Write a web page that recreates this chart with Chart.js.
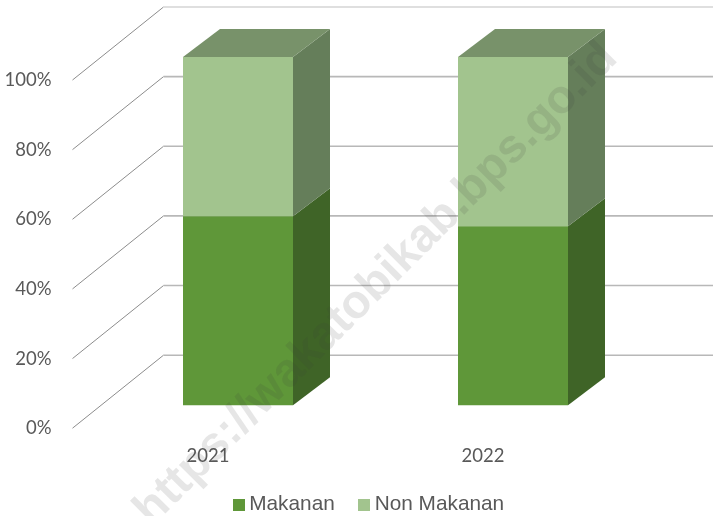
<!DOCTYPE html>
<html>
<head>
<meta charset="utf-8">
<title>Makanan dan Non Makanan</title>
<script src="https://cdn.jsdelivr.net/npm/chart.js@4"></script>
<style>
html, body { margin: 0; padding: 0; background: #fff; }
#wrap { width: 713px; height: 516px; }
</style>
</head>
<body>
<div id="wrap"><canvas id="chart"></canvas></div>
<script>
const categories = ['2021', '2022'];
const makanan = [54.3, 51.4];
const nonMakanan = [45.7, 48.6];
const yTicks = [0, 20, 40, 60, 80, 100];

// how far the walls and the bars sit behind the front plane
const wallDepth = { x: 93, y: -73 };
const barShift = { x: 30, y: -23 };
const barDepth = { x: 37, y: -28 };

const sideColors = ['#3f6427', '#657e5a'];
const topColor = '#78926a';

function swatch(color) {
    const c = document.createElement('canvas');
    c.width = 12;
    c.height = 12;
    const g = c.getContext('2d');
    g.fillStyle = color;
    g.fillRect(0, 0, 12, 12);
    return c;
}

const fakeDepth = {
    id: 'fakeDepth',
    afterLayout(chart) {
        // legend sits right of centre and higher than the layout puts it
        chart.legend.left += 15;
        chart.legend.right += 15;
        chart.legend.top -= 3.5;
        chart.legend.bottom -= 3.5;
    },
    beforeDatasetsDraw(chart) {
        const ctx = chart.ctx;
        const y = chart.scales.y;
        const left = chart.chartArea.left;
        const right = chart.chartArea.right;
        ctx.save();
        yTicks.forEach(v => {
            const py = y.getPixelForValue(v);
            ctx.strokeStyle = '#8c8c8c';
            ctx.lineWidth = 1;
            ctx.beginPath();
            ctx.moveTo(left + 2, py);
            ctx.lineTo(left + wallDepth.x, py + wallDepth.y);
            ctx.stroke();
            ctx.strokeStyle = v === 100 ? '#d4d4d4' : '#b8b8b8';
            ctx.lineWidth = 1.6;
            ctx.beginPath();
            ctx.moveTo(left + wallDepth.x, py + wallDepth.y);
            ctx.lineTo(right + wallDepth.x, py + wallDepth.y);
            ctx.stroke();
        });
        ctx.restore();

        // bars and their side faces are moved into the middle of the floor
        ctx.save();
        ctx.translate(barShift.x, barShift.y);
        chart.data.datasets.forEach((ds, i) => {
            chart.getDatasetMeta(i).data.forEach(bar => {
                const r = bar.x + bar.width / 2;
                ctx.fillStyle = sideColors[i];
                ctx.beginPath();
                ctx.moveTo(r, bar.base);
                ctx.lineTo(r + barDepth.x, bar.base + barDepth.y);
                ctx.lineTo(r + barDepth.x, bar.y + barDepth.y);
                ctx.lineTo(r, bar.y);
                ctx.closePath();
                ctx.fill();
                if (i === chart.data.datasets.length - 1) {
                    const l = bar.x - bar.width / 2;
                    ctx.fillStyle = topColor;
                    ctx.beginPath();
                    ctx.moveTo(l, bar.y);
                    ctx.lineTo(l + barDepth.x, bar.y + barDepth.y);
                    ctx.lineTo(r + barDepth.x, bar.y + barDepth.y);
                    ctx.lineTo(r, bar.y);
                    ctx.closePath();
                    ctx.fill();
                }
            });
        });
    },
    afterDatasetsDraw(chart) {
        chart.ctx.restore();
    },
    afterDraw(chart) {
        const ctx = chart.ctx;
        ctx.save();
        ctx.translate(619, 60);
        ctx.rotate(-45 * Math.PI / 180);
        ctx.font = 'bold 47px "Liberation Sans"';
        ctx.fillStyle = 'rgba(60, 60, 60, 0.13)';
        ctx.textAlign = 'right';
        ctx.textBaseline = 'alphabetic';
        ctx.fillText('https://wakatobikab.bps.go.id', 0, 0);
        ctx.restore();
    }
};

new Chart(document.getElementById('chart'), {
    type: 'bar',
    plugins: [fakeDepth],
    data: {
        labels: categories,
        datasets: [
            {
                label: 'Makanan',
                data: makanan,
                backgroundColor: '#5f9739',
                pointStyle: swatch('#5f9739'),
                barPercentage: 0.4,
                categoryPercentage: 1,
                clip: false
            },
            {
                label: 'Non Makanan',
                data: nonMakanan,
                backgroundColor: '#a2c48e',
                pointStyle: swatch('#a2c48e'),
                barPercentage: 0.4,
                categoryPercentage: 1,
                clip: false
            }
        ]
    },
    options: {
        responsive: true,
        maintainAspectRatio: false,
        animation: false,
        layout: { padding: { left: 0, right: 0, top: 80, bottom: -12.5 } },
        scales: {
            x: {
                stacked: true,
                grid: { display: false },
                border: { display: false },
                ticks: {
                    color: '#595959',
                    padding: 9,
                    font: { family: 'Lato', size: 18.5 }
                },
                afterFit(scale) { scale.height = 40; }
            },
            y: {
                stacked: true,
                min: 0,
                max: 100,
                grid: { display: false },
                border: { display: false },
                afterBuildTicks(scale) { scale.ticks = yTicks.map(v => ({ value: v })); },
                ticks: {
                    color: '#595959',
                    padding: 11,
                    font: { family: 'Lato', size: 18.5 },
                    callback: v => v + '%'
                },
                afterFit(scale) { scale.width = 70.5; }
            },
            // empty axis, only keeps room on the right for the back wall
            spare: {
                position: 'right',
                min: 0,
                max: 100,
                grid: { display: false },
                border: { display: false },
                ticks: { display: false },
                afterFit(scale) { scale.width = 92.5; }
            }
        },
        plugins: {
            tooltip: { enabled: false },
            legend: {
                position: 'bottom',
                labels: {
                    usePointStyle: true,
                    pointStyleWidth: 0.01,
                    padding: 29.5,
                    color: '#595959',
                    font: { family: 'Liberation Sans', size: 20.8 }
                }
            }
        }
    }
});
</script>
</body>
</html>
